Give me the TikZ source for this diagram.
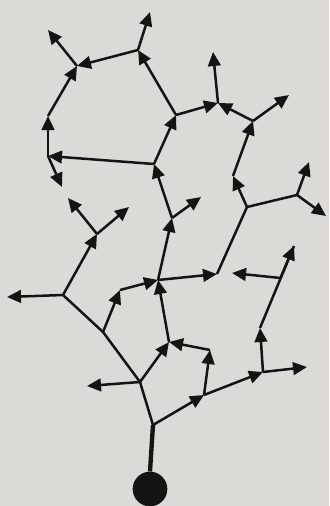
\documentclass[tikz,border=0pt]{standalone}
\usepackage{tikz}
\usetikzlibrary{arrows.meta}
\definecolor{PaperGrey}{HTML}{DCDAD6}
\definecolor{InkBlack}{HTML}{141414}

\begin{document}
\begin{tikzpicture}[x=0.03cm, y=-0.03cm, >={Triangle[length=4.2mm, width=3.8mm]},
  branch/.style={line width=0.75mm, InkBlack, line join=round},
  tipline/.style={branch, ->}]
  \fill [PaperGrey] (0,0) rectangle (329,506);
  \useasboundingbox (0,0) rectangle (329,506);

  % Junctions
  \coordinate (a) at (153,425);
  \coordinate (b) at (140,382);
  \coordinate (bl) at (87,386);
  \coordinate (c) at (204,395);
  \coordinate (cu) at (210,350);
  \coordinate (m) at (169,342);
  \coordinate (d) at (263,372);
  \coordinate (dr) at (307,367);
  \coordinate (dv) at (260,328);
  \coordinate (du) at (294,246);
  \coordinate (dj) at (280.5,278);
  \coordinate (dl) at (232,273);
  \coordinate (n) at (158,280);
  \coordinate (g) at (120,290);
  \coordinate (e) at (103,332);
  \coordinate (f) at (63,295);
  \coordinate (fl) at (7,297);
  \coordinate (h) at (97,234);
  \coordinate (hl) at (68,198);
  \coordinate (hr) at (129,207);
  \coordinate (p) at (172,218);
  \coordinate (pr) at (201,197);
  \coordinate (q) at (154,164);
  \coordinate (r) at (48,156);
  \coordinate (rd) at (62,187);
  \coordinate (u) at (48,116);
  \coordinate (v) at (77,66);
  \coordinate (vl) at (48,30);
  \coordinate (w) at (138,50);
  \coordinate (wu) at (150,12);
  \coordinate (t) at (176,115);
  \coordinate (x) at (218,103);
  \coordinate (xu) at (213,52);
  \coordinate (y) at (253,121);
  \coordinate (yr) at (289,95);
  \coordinate (z) at (233,176);
  \coordinate (k) at (247,207);
  \coordinate (j) at (217,274);
  \coordinate (o) at (297,195);
  \coordinate (ou) at (309,162);
  \coordinate (od) at (326,216);

  % Cell body and stem
  \node [circle, fill=InkBlack, minimum size=1.04cm, inner sep=0pt] (soma) at (150,489) {};
  \draw [line width=1.3mm, InkBlack] (soma.north) -- (a);

  % Plain branches
  \draw [branch] (a) -- (b) -- (e) -- (f);
  \draw [branch] (j) -- (k) -- (o);
  \draw [branch] (dv) -- (du);

  % Growing tips
  \draw [tipline] (b) -- (bl);
  \draw [tipline] (b) -- (m);
  \draw [tipline] (a) -- (c);
  \draw [tipline] (c) -- (cu);
  \draw [tipline] (cu) -- (m);
  \draw [tipline] (c) -- (d);
  \draw [tipline] (d) -- (dr);
  \draw [tipline] (d) -- (dv);
  \draw [tipline] (dj) -- (du);
  \draw [tipline] (dj) -- (dl);
  \draw [tipline] (m) -- (n);
  \draw [tipline] (e) -- (g);
  \draw [tipline] (g) -- (n);
  \draw [tipline] (f) -- (fl);
  \draw [tipline] (f) -- (h);
  \draw [tipline] (h) -- (hl);
  \draw [tipline] (h) -- (hr);
  \draw [tipline] (n) -- (p);
  \draw [tipline] (n) -- (j);
  \draw [tipline] (p) -- (pr);
  \draw [tipline] (p) -- (q);
  \draw [tipline] (q) -- (r);
  \draw [tipline] (q) -- (t);
  \draw [tipline] (r) -- (rd);
  \draw [tipline] (r) -- (u);
  \draw [tipline] (u) -- (v);
  \draw [tipline] (v) -- (vl);
  \draw [tipline] (t) -- (w);
  \draw [tipline] (w) -- (v);
  \draw [tipline] (w) -- (wu);
  \draw [tipline] (t) -- (x);
  \draw [tipline] (y) -- (x);
  \draw [tipline] (x) -- (xu);
  \draw [tipline] (y) -- (yr);
  \draw [tipline] (k) -- (z);
  \draw [tipline] (z) -- (y);
  \draw [tipline] (o) -- (ou);
  \draw [tipline] (o) -- (od);
\end{tikzpicture}
\end{document}
